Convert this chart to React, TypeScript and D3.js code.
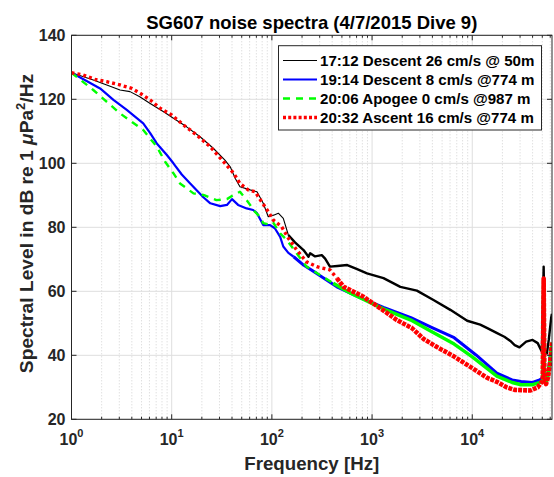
import React from 'react';
import * as d3 from 'd3';

const titleText = 'SG607 noise spectra (4/7/2015 Dive 9)';
const xLabelText = 'Frequency [Hz]';
const yTicks = [20, 40, 60, 80, 100, 120, 140];
const xDecades = [0, 1, 2, 3, 4];
const xDomain = [1, 62500];
const yDomain = [20, 140];

const legendLabels = [
  '17:12 Descent 26 cm/s @ 50m',
  '19:14 Descent 8 cm/s @774 m',
  '20:06 Apogee 0 cm/s @987 m',
  '20:32 Ascent 16 cm/s @774 m',
];

// 17:12 Descent 26 cm/s @ 50 m
const descent50Freq = [1, 1.65, 2.25, 3.05, 3.84, 4.8, 6.1, 8.3, 10.4, 14.1, 19.2, 26, 34, 38.4, 43, 48, 60.6, 71, 82, 92, 104, 116, 130, 146, 170, 207, 232, 241, 270, 315, 340, 380, 450, 565, 700, 890, 1300, 1915, 2800, 4100, 6040, 8900, 12000, 14300, 17500, 20900, 24000, 26500, 29600, 34500, 40000, 45000, 49500, 51600, 53000, 55600, 58000, 61500, 62500];
const descent50Level = [128.3, 126, 124.5, 122.9, 122.4, 120.8, 118.7, 116.1, 114.1, 111.4, 108.3, 104.7, 101, 98.9, 95.3, 92.7, 91.7, 91.1, 87.5, 83.3, 83.8, 84.4, 82.8, 77.6, 75.3, 72.9, 70.8, 71.9, 70.9, 71.3, 70.2, 67.7, 67.9, 68.2, 67, 65.6, 64.1, 61.4, 60.2, 57.3, 54.2, 50.8, 49.6, 48.4, 47, 45.8, 44.5, 43.2, 42.5, 44.3, 44.8, 43.8, 41.1, 67.7, 41.6, 40.6, 44.8, 52, 53];

// 19:14 Descent 8 cm/s @ 774 m
const descent774Freq = [1, 1.4, 1.93, 2.62, 3.56, 5.2, 6.1, 7.1, 8.95, 10.4, 12.6, 15.3, 20.7, 24.3, 30.5, 35.6, 40, 46, 56, 65, 71, 82, 96, 107, 121, 130, 146, 165, 207, 280, 445, 760, 1300, 2440, 3870, 6600, 10900, 17600, 25000, 30700, 40000, 47000, 50500, 51600, 52500, 54500, 57000, 60000, 62500];
const descent774Level = [128.3, 125.8, 123.4, 119.8, 116.7, 112.5, 109.4, 106.2, 102.6, 100, 96.5, 93.7, 89.4, 87.5, 86.6, 87, 88.8, 87, 85.9, 85.4, 84.4, 80.7, 80.7, 79.7, 77, 74, 72, 70.8, 68.2, 65.6, 61.4, 58, 55, 51.8, 48.8, 45.5, 40.1, 34.4, 32.3, 31.8, 31.5, 32.3, 33, 64, 35, 32, 34, 40, 43];

// 20:06 Apogee 0 cm/s @ 987 m
const apogeeFreq = [1, 1.65, 3.05, 5.2, 7.1, 8.6, 10.4, 12.1, 16.5, 20.7, 28, 35.6, 41.5, 48, 56, 60.6, 65, 76, 82, 96, 103, 121, 141, 222, 410, 610, 1300, 2440, 3870, 6600, 10000, 17600, 25000, 30700, 40000, 47000, 50500, 51600, 52500, 54500, 57000, 60000, 62500];
const apogeeLevel = [128.3, 122.9, 115.6, 110.4, 105.2, 100.5, 96.9, 93.7, 90.6, 90.1, 88.5, 88.8, 90.1, 91.1, 88.5, 87, 85.4, 83.3, 81.3, 80.8, 81.5, 78.1, 76, 67.7, 62.5, 59.4, 54.5, 51, 47.5, 43.5, 39.5, 33.5, 31.5, 30.8, 30.8, 31.5, 32, 64, 33, 31.5, 33.5, 39, 44];

// 20:32 Ascent 16 cm/s @ 774 m
const ascentFreq = [1, 1.31, 1.72, 2.25, 3.05, 3.99, 4.83, 6.1, 7.65, 10, 13.1, 17.8, 24.2, 32.9, 41.5, 48, 58, 68, 79, 92, 103, 125, 146, 177, 222, 280, 380, 445, 520, 820, 1300, 1770, 2500, 3300, 4500, 6600, 10000, 14000, 17600, 22000, 26500, 38000, 45000, 48000, 50500, 51600, 52500, 54500, 57000, 60000, 62500];
const ascentLevel = [128.3, 127.6, 126.2, 125.5, 124.5, 123.4, 121.9, 119.8, 117.2, 115.1, 112, 108.8, 105.2, 100.5, 96.9, 93.7, 91.7, 91.1, 88, 84.9, 82.3, 80.2, 76.6, 72.9, 69.2, 67.7, 66.7, 64.1, 61.4, 58.3, 54, 51, 48.5, 45, 42.5, 39.6, 36, 33, 31.7, 30, 29.2, 29, 30, 31.2, 32, 64, 33, 31, 33, 38, 44];

const W = 554;
const H = 477;
const L = 71.5;
const R = 552;
const T = 35.3;
const B = 419.3;
const AX = '#262626';
const FONT = "'Liberation Sans', Arial, Helvetica, sans-serif";

export default function App() {
  const x = d3.scaleLog().domain(xDomain).range([L, R]);
  const y = d3.scaleLinear().domain(yDomain).range([B, T]);
  const line = d3
    .line<[number, number]>()
    .x((d) => x(d[0]))
    .y((d) => y(d[1]));

  const zip = (f: number[], v: number[]) => f.map((ff, i) => [ff, v[i]] as [number, number]);

  const series = [
    { pts: zip(descent50Freq, descent50Level), color: '#000000', split: 146,
      low: { strokeWidth: 1.1 }, high: { strokeWidth: 2.4 }, legend: { strokeWidth: 1.1 } },
    { pts: zip(descent774Freq, descent774Level), color: '#0000ff', split: 165,
      low: { strokeWidth: 2.2 }, high: { strokeWidth: 3 }, legend: { strokeWidth: 2.2 } },
    { pts: zip(apogeeFreq, apogeeLevel), color: '#00ff00', split: 410,
      low: { strokeWidth: 2.4, strokeDasharray: '7 6' }, high: { strokeWidth: 3.4 }, legend: { strokeWidth: 2.4, strokeDasharray: '7 6' } },
    { pts: zip(ascentFreq, ascentLevel), color: '#ff0000', split: 445,
      low: { strokeWidth: 3.4, strokeDasharray: '3 3' }, high: { strokeWidth: 4.6, strokeDasharray: '4 1' }, legend: { strokeWidth: 3.4, strokeDasharray: '3 2.2' } },
  ];

  const minor: number[] = [];
  xDecades.forEach((k) => {
    for (let m = 2; m <= 9; m++) {
      const f = m * Math.pow(10, k);
      if (f < xDomain[1]) minor.push(f);
    }
  });
  const major = xDecades.map((k) => Math.pow(10, k));

  return (
    <svg width={W} height={H} style={{ position: 'absolute', left: 0, top: 0, background: '#ffffff' }} fontFamily={FONT}>
      <defs>
        <clipPath id="plotClip">
          <rect x={L} y={T} width={R - L} height={B - T} />
        </clipPath>
      </defs>
      <rect x={0} y={0} width={W} height={H} fill="#ffffff" />
      {/* grid */}
      <g>
        {minor.map((f) => (
          <line key={'mg' + f} x1={x(f)} x2={x(f)} y1={T} y2={B} stroke="#c8c8c8" strokeWidth={0.8} strokeDasharray="1 2" />
        ))}
        {major.map((f) => (
          <line key={'Mg' + f} x1={x(f)} x2={x(f)} y1={T} y2={B} stroke="#dedede" strokeWidth={1} />
        ))}
        {yTicks.map((v) => (
          <line key={'yg' + v} x1={L} x2={R} y1={y(v)} y2={y(v)} stroke="#dedede" strokeWidth={1} />
        ))}
      </g>
      {/* data */}
      <g clipPath="url(#plotClip)" fill="none" strokeLinejoin="round">
        {series.map((s, i) => {
          const lowPts = s.pts.filter((p) => p[0] <= s.split);
          const highPts = s.pts.filter((p) => p[0] >= s.split);
          return (
            <g key={'s' + i}>
              <path d={line(lowPts) || ''} stroke={s.color} {...s.low} />
              <path d={line(highPts) || ''} stroke={s.color} {...s.high} />
            </g>
          );
        })}
      </g>
      {/* axes box */}
      <rect x={L} y={T} width={R - L} height={B - T} fill="none" stroke={AX} strokeWidth={1} />
      {/* ticks */}
      <g stroke={AX} strokeWidth={1}>
        {major.map((f) => (
          <g key={'Mt' + f}>
            <line x1={x(f)} x2={x(f)} y1={B} y2={B - 5} />
            <line x1={x(f)} x2={x(f)} y1={T} y2={T + 5} />
          </g>
        ))}
        {minor.map((f) => (
          <g key={'mt' + f}>
            <line x1={x(f)} x2={x(f)} y1={B} y2={B - 2.5} />
            <line x1={x(f)} x2={x(f)} y1={T} y2={T + 2.5} />
          </g>
        ))}
        {yTicks.map((v) => (
          <g key={'yt' + v}>
            <line x1={L} x2={L + 5} y1={y(v)} y2={y(v)} />
            <line x1={R} x2={R - 5} y1={y(v)} y2={y(v)} />
          </g>
        ))}
      </g>
      {/* tick labels */}
      <g fontWeight="bold" fill={AX} fontSize={16}>
        {yTicks.map((v) => (
          <text key={'yl' + v} x={L - 6} y={y(v) + 5.8} textAnchor="end">
            {v}
          </text>
        ))}
        {xDecades.map((k) => (
          <text key={'xl' + k} x={x(Math.pow(10, k))} y={445} textAnchor="middle">
            10
            <tspan fontSize={11} dy={-8}>
              {k}
            </tspan>
          </text>
        ))}
      </g>
      {/* labels */}
      <text x={(L + R) / 2} y={28.5} textAnchor="middle" fontWeight="bold" fontSize={18.5} fill="#000">
        {titleText}
      </text>
      <text x={(L + R) / 2} y={470} textAnchor="middle" fontWeight="bold" fontSize={18.7} fill={AX}>
        {xLabelText}
      </text>
      <text transform={`translate(33, 223.5) rotate(-90)`} textAnchor="middle" fontWeight="bold" fontSize={19.2} fill={AX}>
        Spectral Level in dB re 1 <tspan fontStyle="italic">μ</tspan>Pa
        <tspan fontSize={13} dy={-8}>2</tspan>
        <tspan dy={8}>/Hz</tspan>
      </text>
      {/* legend */}
      <g>
        <rect x={278.5} y={45.7} width={263} height={84.3} fill="#ffffff" stroke={AX} strokeWidth={1} />
        {series.map((s, i) => (
          <g key={'lg' + i}>
            <line x1={283} x2={317} y1={60.5 + 19 * i} y2={60.5 + 19 * i} stroke={s.color} {...s.legend} />
            <text x={320} y={65.8 + 19 * i} fontSize={15.1} fontWeight="bold" fill="#000">
              {legendLabels[i]}
            </text>
          </g>
        ))}
      </g>
    </svg>
  );
}
